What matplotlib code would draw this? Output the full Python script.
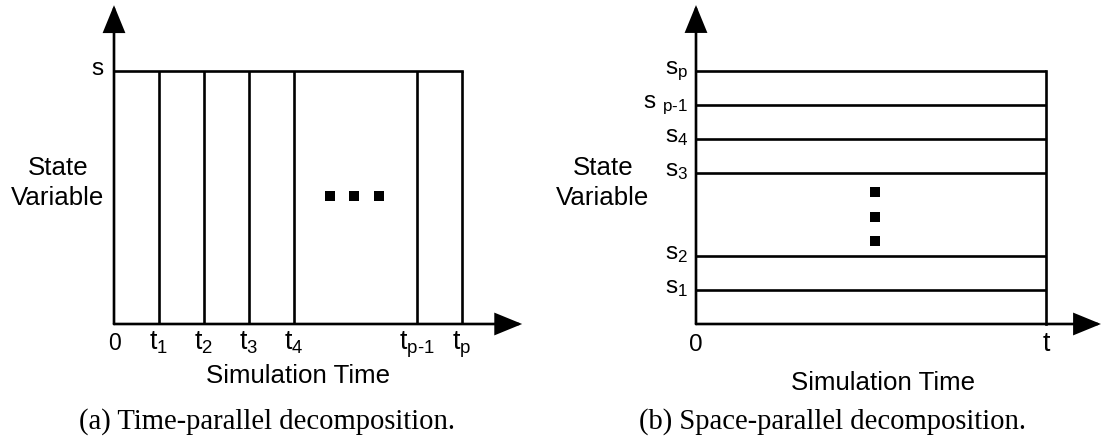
import matplotlib
matplotlib.use('Agg')
import matplotlib.pyplot as plt
from matplotlib.transforms import offset_copy

plt.rcParams['font.family'] = ['Liberation Sans', 'DejaVu Sans']
plt.rcParams['mathtext.fontset'] = 'custom'
plt.rcParams['mathtext.rm'] = 'Liberation Sans'
plt.rcParams['mathtext.it'] = 'Liberation Sans'
plt.rcParams['mathtext.bf'] = 'Liberation Sans:bold'

# ---------------- data ----------------
# (a) time-parallel decomposition
time_bounds = [0, 1, 2, 3, 4, 6.73, 7.73]
time_labels = ['0', r'$\mathregular{t_1}$', r'$\mathregular{t_2}$', r'$\mathregular{t_3}$',
               r'$\mathregular{t_4}$', r'$\mathregular{t_{\text{p-1}}}$', r'$\mathregular{t_p}$']
state_top = 1.0
state_top_label = 's'
dots_a_x = [4.81, 5.34, 5.88]
dots_a_y = [0.506, 0.506, 0.506]

# (b) space-parallel decomposition
space_levels = [1, 2, 4.44, 5.44, 6.44, 7.44]
space_labels = [r'$\mathregular{s_1}$', r'$\mathregular{s_2}$', r'$\mathregular{s_3}$',
                r'$\mathregular{s_4}$', r'$\mathregular{s\ _{\text{p-1}}}$', r'$\mathregular{s_p}$']
time_end = 1.0
time_end_labels = ['0', 't']
dots_b_x = [0.51, 0.51, 0.51]
dots_b_y = [2.44, 3.15, 3.88]

ylabel_text = ['State', 'Variable']
xlabel_text = 'Simulation Time'
captions = ['(a) Time-parallel decomposition.', '(b) Space-parallel decomposition.']

# ---------------- layout ----------------
W, H = 1102, 440
DPI = 100
fig = plt.figure(figsize=(W / DPI, H / DPI), dpi=DPI)
FS_TITLE = 18.6
FS_TICK = 19.2
FS_ZERO = 16.5
FS_S = 17.5
FS_CAP = 20.6
LW = 1.9


def make_axes(ox, oy, sx, sy):
    ax = fig.add_axes([0, 0, 1, 1])
    ax.set_xlim(-ox / sx, (W - ox) / sx)
    ax.set_ylim(-(H - oy) / sy, oy / sy)
    ax.axis('off')
    ax.patch.set_alpha(0)
    return ax


def arrow(ax, tip):
    ax.annotate('', xy=tip, xytext=(0, 0),
                arrowprops=dict(arrowstyle='-|>,head_length=1.66,head_width=0.68',
                                mutation_scale=10, lw=LW, color='black',
                                shrinkA=0, shrinkB=0, joinstyle='miter'))


def off(ax, dx, dy):
    return offset_copy(ax.transData, fig=fig, x=dx, y=dy, units='dots')


line_kw = dict(color='black', lw=LW, solid_capstyle='projecting')

# ---- panel (a) ----
axa = make_axes(114, 324, 45, 253)
arrow(axa, (9.07, 0))
arrow(axa, (0, 1.26))
axa.plot([time_bounds[0], time_bounds[-1]], [state_top, state_top], **line_kw)
axa.vlines(time_bounds[1:], 0, state_top, colors='black', lw=LW)
axa.plot(dots_a_x, dots_a_y, linestyle='none', marker='s', markersize=7,
         markeredgewidth=0, color='black')
for x, lab in zip(time_bounds, time_labels):
    fs = FS_ZERO if lab == '0' else FS_TICK
    axa.text(x, 0, lab, transform=off(axa, 0, -26), ha='center', va='baseline', fontsize=fs)
axa.text(0, state_top, state_top_label, transform=off(axa, -11, -4), ha='right',
         va='baseline', fontsize=FS_S)

# ---- panel (b) ----
axb = make_axes(696, 324, 350, 34)
arrow(axb, (1.157, 0))
arrow(axb, (0, 9.38))
axb.hlines(space_levels, 0, time_end, colors='black', lw=LW)
axb.plot([time_end, time_end], [0, space_levels[-1]], **line_kw)
axb.plot(dots_b_x, dots_b_y, linestyle='none', marker='s', markersize=7,
         markeredgewidth=0, color='black')
for y, lab in zip(space_levels, space_labels):
    axb.text(0, y, lab, transform=off(axb, -8, -3), ha='right', va='baseline', fontsize=FS_S)
for x, lab in zip([0, time_end], time_end_labels):
    fs = FS_ZERO + 1 if lab == '0' else FS_TICK
    axb.text(x, 0, lab, transform=off(axb, 0, -27), ha='center', va='baseline', fontsize=fs)

# ---- axis titles & captions (figure pixel coordinates) ----
def ftext(x, y, s, **kw):
    fig.text(x / W, 1 - y / H, s, **kw)

for cx in (58, 603):
    ftext(cx, 175, ylabel_text[0], ha='center', va='baseline', fontsize=FS_TITLE)
    ftext(cx, 205, ylabel_text[1], ha='center', va='baseline', fontsize=FS_TITLE)
ftext(298, 383, xlabel_text, ha='center', va='baseline', fontsize=FS_TITLE)
ftext(883, 390, xlabel_text, ha='center', va='baseline', fontsize=FS_TITLE)
ftext(267, 429, captions[0], ha='center', va='baseline', fontsize=FS_CAP,
      family='Liberation Serif')
ftext(832, 429, captions[1], ha='center', va='baseline', fontsize=FS_CAP,
      family='Liberation Serif')

fig.savefig('out.png', dpi=DPI)
